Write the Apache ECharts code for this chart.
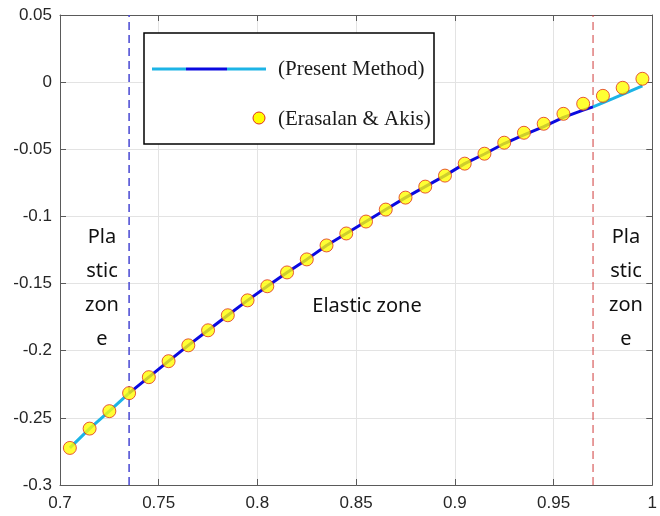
<!DOCTYPE html>
<html>
<head>
<meta charset="utf-8">
<script src="https://cdn.jsdelivr.net/npm/echarts@6/dist/echarts.min.js"></script>
<style>html,body{margin:0;padding:0;background:#fff}#c{width:660px;height:516px}</style>
</head>
<body>
<div id="c"></div>
<script>
// ---- data ----
const markerX = [0.705,0.715,0.725,0.735,0.745,0.755,0.765,0.775,0.785,0.795,0.805,0.815,0.825,0.835,0.845,0.855,0.865,0.875,0.885,0.895,0.905,0.915,0.925,0.935,0.945,0.955,0.965,0.975,0.985,0.995];
const markerY = [-0.2724,-0.258,-0.245,-0.2316,-0.2197,-0.2078,-0.196,-0.1848,-0.1736,-0.1625,-0.152,-0.1417,-0.132,-0.1216,-0.1127,-0.1038,-0.0949,-0.086,-0.0778,-0.0696,-0.0607,-0.0533,-0.0451,-0.0377,-0.031,-0.0236,-0.0161,-0.0102,-0.0042,0.0025];

const plasticLeftX = [0.705,0.715,0.725,0.735];
const plasticLeftY = [-0.2724,-0.258,-0.245,-0.2316];
const elasticX = [0.735,0.745,0.755,0.765,0.775,0.785,0.795,0.805,0.815,0.825,0.835,0.845,0.855,0.865,0.875,0.885,0.895,0.905,0.915,0.925,0.935,0.945,0.955,0.965,0.97];
const elasticY = [-0.2316,-0.2197,-0.2078,-0.196,-0.1848,-0.1736,-0.1625,-0.152,-0.1417,-0.132,-0.1216,-0.1127,-0.1038,-0.0949,-0.086,-0.0778,-0.0696,-0.0607,-0.0535,-0.0457,-0.0392,-0.0331,-0.0262,-0.0208,-0.0184];
const plasticRightX = [0.97,0.98,0.99,0.995];
const plasticRightY = [-0.0184,-0.0122,-0.0059,-0.0028];

const boundaryLeft = 0.735;
const boundaryRight = 0.97;

const xTicks = [0.7,0.75,0.8,0.85,0.9,0.95,1];
const yTicks = [-0.3,-0.25,-0.2,-0.15,-0.1,-0.05,0,0.05];

const legendNames = ['(Present Method)','(Erasalan & Akis)'];
const zoneLabels = ['Pla\nstic\nzon\ne','Elastic zone'];

// ---- build ----
const zip = (xs, ys) => xs.map((x, i) => [x, ys[i]]);
const cyan = '#1db4e6';
const blue = '#0a0ae0';
const axisCol = '#5a5a5a';
const fmt = v => String(+v.toFixed(2));
const yMin = yTicks[0], yMax = yTicks[yTicks.length-1];

const chart = echarts.init(document.getElementById('c'), null, {renderer: 'canvas'});
const grid = {left: 60, right: 4, top: 15, bottom: 31};
const tickFont = {fontFamily: 'Liberation Sans', fontSize: 17, color: '#262626'};

const option = {
  animation: false,
  grid: grid,
  xAxis: [{
    type: 'value', min: xTicks[0], max: xTicks[xTicks.length-1], interval: 0.05,
    axisLine: {onZero: false, lineStyle: {color: axisCol, width: 1}},
    axisTick: {inside: true, length: 6, lineStyle: {color: axisCol}},
    axisLabel: Object.assign({formatter: fmt, margin: 10}, tickFont),
    splitLine: {show: true, lineStyle: {color: '#e3e3e3', width: 1}}
  }, {
    type: 'value', position: 'top', min: xTicks[0], max: xTicks[xTicks.length-1], interval: 0.05,
    axisLine: {show: true, onZero: false, lineStyle: {color: axisCol, width: 1}},
    axisTick: {inside: true, length: 6, lineStyle: {color: axisCol}},
    axisLabel: {show: false}, splitLine: {show: false}
  }],
  yAxis: [{
    type: 'value', min: yMin, max: yMax, interval: 0.05,
    axisLine: {show: true, onZero: false, lineStyle: {color: axisCol, width: 1}},
    axisTick: {show: true, inside: true, length: 6, lineStyle: {color: axisCol}},
    axisLabel: Object.assign({formatter: fmt, margin: 8}, tickFont),
    splitLine: {show: true, lineStyle: {color: '#e3e3e3', width: 1}}
  }, {
    type: 'value', position: 'right', min: yMin, max: yMax, interval: 0.05,
    axisLine: {show: true, onZero: false, lineStyle: {color: axisCol, width: 1}},
    axisTick: {show: true, inside: true, length: 6, lineStyle: {color: axisCol}},
    axisLabel: {show: false}, splitLine: {show: false}
  }],
  series: [
    {type: 'line', data: [[boundaryLeft, yMin], [boundaryLeft, yMax]], symbol: 'none', silent: true,
     lineStyle: {color: '#4646d2', type: [8,5], width: 1.5}, z: 2},
    {type: 'line', data: [[boundaryRight, yMin], [boundaryRight, yMax]], symbol: 'none', silent: true,
     lineStyle: {color: '#d03a3a', type: [8,5], width: 1}, z: 2},
    {type: 'line', data: zip(plasticLeftX, plasticLeftY), symbol: 'none', lineStyle: {color: cyan, width: 3}, z: 3},
    {type: 'line', data: zip(elasticX, elasticY), symbol: 'none', lineStyle: {color: blue, width: 3}, z: 3},
    {type: 'line', data: zip(plasticRightX, plasticRightY), symbol: 'none', lineStyle: {color: cyan, width: 3}, z: 3},
    {type: 'scatter', name: legendNames[1], data: zip(markerX, markerY), symbol: 'circle', symbolSize: 13,
     itemStyle: {color: '#ffff00', borderColor: '#e0301c', borderWidth: 1}, z: 5}
  ],
  graphic: [
    {type: 'rect', z: 100, shape: {x: 144, y: 33, width: 290, height: 111}, style: {fill: '#fff', stroke: '#000', lineWidth: 1.5}},
    {type: 'line', z: 101, shape: {x1: 152, y1: 69, x2: 186, y2: 69}, style: {stroke: cyan, lineWidth: 3}},
    {type: 'line', z: 101, shape: {x1: 186, y1: 69, x2: 227, y2: 69}, style: {stroke: blue, lineWidth: 3}},
    {type: 'line', z: 101, shape: {x1: 227, y1: 69, x2: 266, y2: 69}, style: {stroke: cyan, lineWidth: 3}},
    {type: 'circle', z: 101, shape: {cx: 259, cy: 118, r: 6}, style: {fill: '#ffff00', stroke: '#e0301c', lineWidth: 1}},
    {type: 'text', z: 101, x: 278, y: 69, style: {text: legendNames[0], font: '21px "Liberation Serif"', fill: '#1a1a1a', verticalAlign: 'middle', align: 'left'}},
    {type: 'text', z: 101, x: 278, y: 119, style: {text: legendNames[1], font: '21px "Liberation Serif"', fill: '#1a1a1a', verticalAlign: 'middle', align: 'left'}},
    {type: 'text', z: 101, x: 102, y: 220, style: {text: zoneLabels[0], font: '20px "Noto Sans"', lineHeight: 34, fill: '#111', align: 'center', verticalAlign: 'top'}},
    {type: 'text', z: 101, x: 626, y: 220, style: {text: zoneLabels[0], font: '20px "Noto Sans"', lineHeight: 34, fill: '#111', align: 'center', verticalAlign: 'top'}},
    {type: 'text', z: 101, x: 367, y: 306, style: {text: zoneLabels[1], font: '20px "Noto Sans"', fill: '#111', align: 'center', verticalAlign: 'middle'}}
  ]
};
chart.setOption(option);
</script>
</body>
</html>
